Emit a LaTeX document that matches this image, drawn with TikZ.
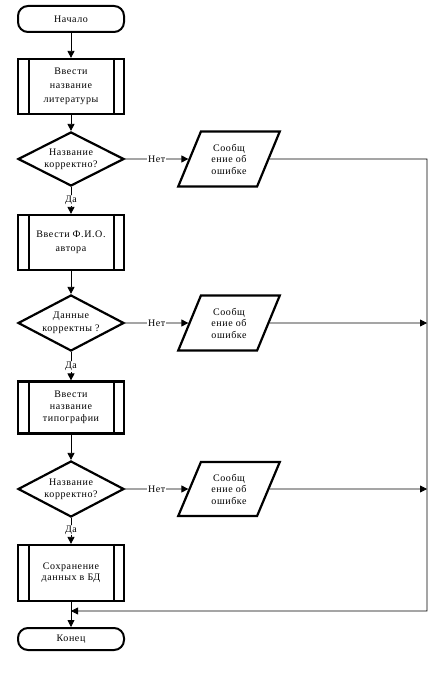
\documentclass[tikz,border=0pt]{standalone}
\usepackage{fontspec}
\setmainfont{Liberation Serif}[LetterSpace=6]
\usetikzlibrary{shapes.geometric,arrows.meta}
\begin{document}
\begin{tikzpicture}[x=1pt,y=-1pt,
  every node/.style={font=\fontsize{10}{12}\selectfont, align=center},
  term/.style={draw, line width=2pt, rounded corners=10pt, minimum width=106pt, minimum height=26pt, inner sep=0pt},
  proc/.style={draw, line width=2.2pt, minimum width=106pt, minimum height=55pt, inner sep=0pt},
  bar/.style={line width=2.2pt},
  dec/.style={draw, diamond, line width=2.2pt, minimum width=106pt, minimum height=54pt, inner sep=0pt},
  io/.style={draw, trapezium, trapezium left angle=65, trapezium right angle=115, trapezium stretches=true, line width=2.2pt, minimum width=102pt, minimum height=55pt, inner sep=1pt, font=\fontsize{10}{11.5}\selectfont},
  txt/.style={inner sep=0pt},
  conn/.style={line width=0.8pt},
  arr/.style={conn, -{Triangle[length=7pt,width=7pt]}},
  lab/.style={fill=white, inner sep=1pt}
]
\useasboundingbox (0,0) rectangle (437,684);

% main column
\node[term] (start) at (71,19) {Начало};
\node[proc] (b1) at (71,86.5) {};
\node[txt, font=\fontsize{10}{14}\selectfont] (b1t) at (b1) {Ввести\\название\\литературы};
\node[dec] (d1) at (71,159) {};
\node[txt] (d1t) at (d1) {Название\\корректно?};
\node[proc] (b2) at (71,242.5) {};
\node[txt, font=\fontsize{10}{14}\selectfont] (b2t) at (b2) {Ввести Ф.И.О.\\автора};
\node[dec, minimum height=56pt] (d2) at (71,323) {};
\node[txt, font=\fontsize{10}{13}\selectfont] (d2t) at (d2) {Данные\\корректны ?};
\node[proc, minimum height=52pt] (b3) at (71,407.5) {};
\node[txt] (b3t) at (b3) {Ввести\\название\\типографии};
\node[dec, minimum height=56pt] (d3) at (71,489) {};
\node[txt] (d3t) at (d3) {Название\\корректно?};
\node[proc, minimum height=56pt] (b4) at (71,573) {};
\node[txt, font=\fontsize{10}{11}\selectfont] (b4t) at (b4) {Сохранение\\данных в БД};
\node[term, minimum height=22pt] (end) at (71,639) {Конец};

% side bars of predefined-process boxes
\foreach \b in {b1,b2,b3,b4}{
  \draw[bar] ([xshift=12pt]\b.north west) -- ([xshift=12pt]\b.south west);
  \draw[bar] ([xshift=-11pt]\b.north east) -- ([xshift=-11pt]\b.south east);
}

% error messages
\node[io] (p1) at (229,159) {Сообщ\\ение об\\ошибке};
\node[io] (p2) at (229,323) {Сообщ\\ение об\\ошибке};
\node[io, minimum height=54pt] (p3) at (229,489) {Сообщ\\ение об\\ошибке};

\coordinate (rt) at (427,159);
\coordinate (rb) at (427,611);
\coordinate (r2) at (427,323);
\coordinate (r3) at (427,489);
\coordinate (ret) at (71,611);

% vertical connectors
\draw[arr] (start) -- (b1);
\draw[arr] (b1) -- (d1);
\draw[arr] (d1) -- node[lab, pos=0.5] {Да} (b2);
\draw[arr] (b2) -- (d2);
\draw[arr] (d2) -- node[lab, pos=0.5] {Да} (b3);
\draw[arr] (b3) -- (d3);
\draw[arr] (d3) -- node[lab, pos=0.46] {Да} (b4);
\draw[arr] (b4) -- (end);

% no branches
\draw[arr] (d1.east) -- node[lab] {Нет} (p1);
\draw[arr] (d2.east) -- node[lab] {Нет} (p2);
\draw[arr] (d3.east) -- node[lab] {Нет} (p3);

\draw[arr] (p1.east) -- (rt) -- (rb) -- (ret);
\draw[arr] (p2.east) -- (r2);
\draw[arr] (p3.east) -- (r3);
\end{tikzpicture}
\end{document}
